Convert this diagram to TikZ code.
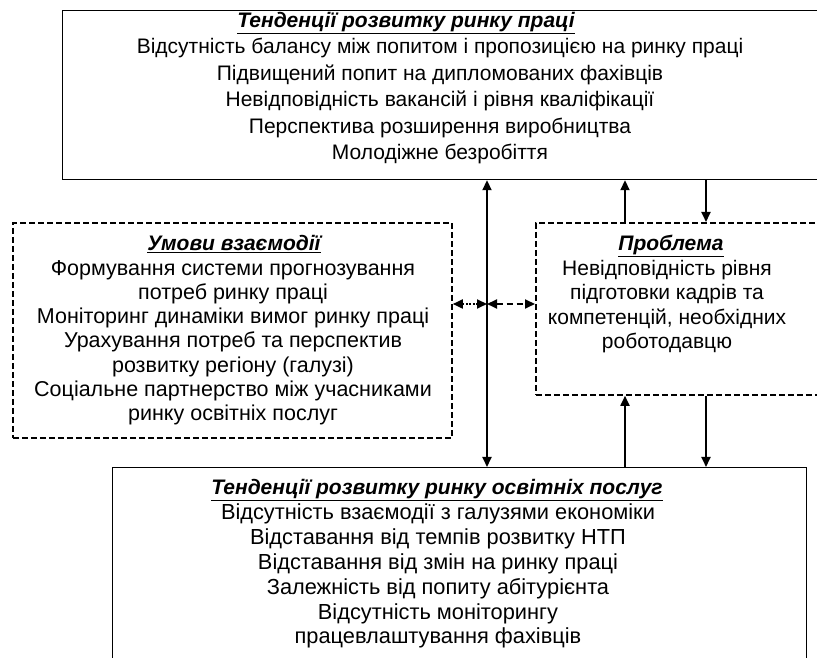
\documentclass[tikz,border=0pt]{standalone}
\usepackage{fontspec}
\setmainfont{Liberation Sans}
\usetikzlibrary{arrows.meta}

\begin{document}
\begin{tikzpicture}[x=1pt,y=1pt,
    >={Triangle[width=9pt,length=10pt]},
    box/.style={draw, line width=1.2pt, inner sep=0pt, anchor=north west},
    dbox/.style={draw, line width=1.8pt, dash pattern=on 6pt off 3pt, inner sep=0pt, anchor=north west},
    arr/.style={line width=1.8pt},
    ttl/.style={font=\fontsize{21}{24}\selectfont\bfseries\itshape, inner sep=0pt, anchor=north},
    txt/.style={align=center, inner sep=0pt, anchor=north}]
            \useasboundingbox (0,0) rectangle (817,658);
            \clip (0,0) rectangle (817,658);

            % Ринок праці
            \node[box, minimum width=900, minimum height=169] (rynok) at (62,648) {};
            \node[ttl] (rynokT) at (406,646) {\underline{Тенденції розвитку ринку праці}};
            \node[txt, font=\fontsize{21}{26.6}\selectfont] (rynokL) at (440,620) {Відсутність балансу між попитом і пропозицією на ринку праці\\
                Підвищений попит на дипломованих фахівців\\
                Невідповідність вакансій і рівня кваліфікації\\
                Перспектива розширення виробництва\\
                Молодіжне безробіття};

            % Умови взаємодії
            \node[dbox, minimum width=439, minimum height=215] (umovy) at (12,436) {};
            \node[ttl] (umovyT) at (234,423) {\underline{Умови взаємодії}};
            \node[txt, font=\fontsize{21.5}{24.3}\selectfont] (umovyL) at (233,398) {Формування системи прогнозування\\
                потреб ринку праці\\
                Моніторинг динаміки вимог ринку праці\\
                Урахування потреб та перспектив\\
                розвитку регіону (галузі)\\
                Соціальне партнерство між учасниками\\
                ринку освітніх послуг};

            % Проблема
            \node[dbox, minimum width=400, minimum height=172] (problema) at (535,436) {};
            \node[ttl] (problemaT) at (671,423) {\underline{Проблема}};
            \node[txt, font=\fontsize{21}{24.4}\selectfont] (problemaL) at (667,398) {Невідповідність рівня\\
                підготовки кадрів та\\
                компетенцій, необхідних\\
                роботодавцю};

            % Ринок освітніх послуг
            \node[box, minimum width=694, minimum height=250] (osvita) at (112,191) {};
            \node[ttl] (osvitaT) at (437,179) {\underline{Тенденції розвитку ринку освітніх послуг}};
            \node[txt, font=\fontsize{21.8}{24.8}\selectfont] (osvitaL) at (438,154) {Відсутність взаємодії з галузями економіки\\
                Відставання від темпів розвитку НТП\\
                Відставання від змін на ринку праці\\
                Залежність від попиту абітурієнта\\
                Відсутність моніторингу\\
                працевлаштування фахівців};

            % Зв'язки
            \coordinate (vis) at (487,354);
            \coordinate (pa) at (625,0);
            \coordinate (pb) at (706,0);
            \draw[arr, <->] (rynok.south -| vis) -- (osvita.north -| vis);
            \draw[arr, <->, dash pattern=on 2pt off 1.5pt] (umovy.east |- vis) -- (vis);
            \draw[arr, <->, dash pattern=on 6pt off 4pt] (vis) -- (problema.west |- vis);
            \draw[arr, ->] (problema.north -| pa) -- (rynok.south -| pa);
            \draw[arr, ->] (rynok.south -| pb) -- (problema.north -| pb);
            \draw[arr, ->] (osvita.north -| pa) -- (problema.south -| pa);
            \draw[arr, ->] (problema.south -| pb) -- (osvita.north -| pb);
\end{tikzpicture}
\end{document}
